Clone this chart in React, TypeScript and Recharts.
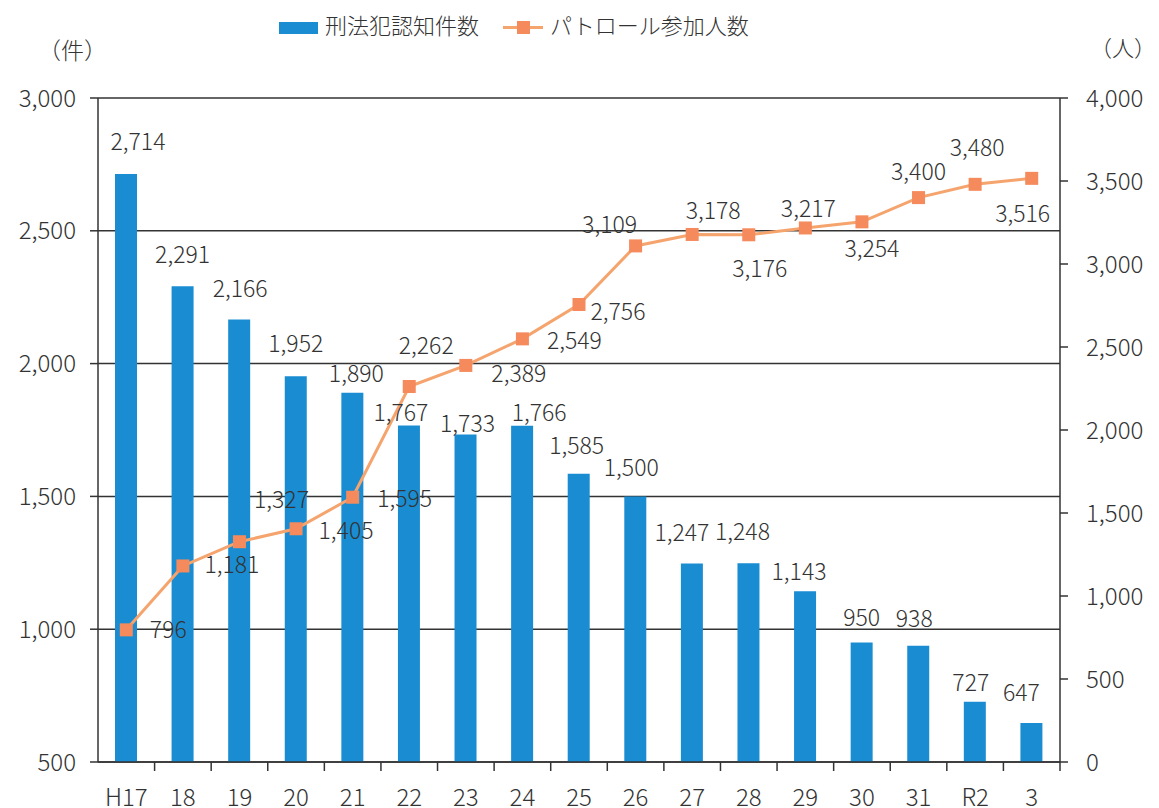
import {
  ComposedChart,
  Bar,
  Line,
  XAxis,
  YAxis,
  CartesianGrid,
  LabelList,
} from "recharts";

const years = ["H17", "18", "19", "20", "21", "22", "23", "24", "25", "26", "27", "28", "29", "30", "31", "R2", "3"];
const crimes = [2714, 2291, 2166, 1952, 1890, 1767, 1733, 1766, 1585, 1500, 1247, 1248, 1143, 950, 938, 727, 647];
const patrol = [796, 1181, 1327, 1405, 1595, 2262, 2389, 2549, 2756, 3109, 3178, 3176, 3217, 3254, 3400, 3480, 3516];
const leftTicks = [500, 1000, 1500, 2000, 2500, 3000];
const rightTicks = [0, 500, 1000, 1500, 2000, 2500, 3000, 3500, 4000];

// label nudges
const barLabelDx = [12, 0, 1, 0, 4, -8, 2, 17, -2, -4, -10, -6, -6, 0, -4, -4, -10];
const barLabelDy = [-34, -33, -33, -34, -21, -14, -13, -15, -30, -30, -33, -33, -21, -26, -29, -21, -32];
const lineLabelDx = [42, 49, 42, 50, 52, 17, 53, 52, 39, -26, 21, 11, 3, 10, 0, 2, -9];
const lineLabelDy = [-2, -3, -44, 0, 0, -43, 7, 0, 5, -23, -25, 32, -21, 25, -28, -38, 34];

const data = years.map((year, i) => ({ year, crimes: crimes[i], patrol: patrol[i] }));

const font = "'Noto Sans CJK JP', 'Noto Sans', sans-serif";
const ink = "#333";
const blue = "#1a8dd2";
const orange = "#f5a46e";
const orangeDot = "#f58a5c";
const fmt = (v: number) => v.toLocaleString("en-US");

const tickStyle = { fontFamily: font, fontSize: 24, fill: ink, fontWeight: 300 };
const labelStyle = { fontFamily: font, fontSize: 23, fill: ink, fontWeight: 300 };

function BarLabel(p: any) {
  const i = p.index;
  return (
    <text
      x={p.x + p.width / 2 + barLabelDx[i]}
      y={p.y + barLabelDy[i]}
      textAnchor="middle"
      dominantBaseline="central"
      style={labelStyle}
    >
      {fmt(p.value)}
    </text>
  );
}

function LineLabel(p: any) {
  const i = p.index;
  return (
    <text
      x={p.x + lineLabelDx[i]}
      y={p.y + lineLabelDy[i]}
      textAnchor="middle"
      dominantBaseline="central"
      style={labelStyle}
    >
      {fmt(p.value)}
    </text>
  );
}

function XTick(p: any) {
  const half = p.payload?.offset || 28.3;
  return (
    <g>
      <line x1={p.x + half} x2={p.x + half} y1={p.y - 8} y2={p.y + 1} stroke={ink} strokeWidth={1.5} />
      <text x={p.x} y={p.y + 25} textAnchor="middle" dominantBaseline="central" style={tickStyle}>
        {p.payload.value}
      </text>
    </g>
  );
}

export default function App() {
  return (
    <div style={{ position: "absolute", left: 0, top: 0, width: 1159, height: 808, background: "#fff", fontFamily: font, color: ink }}>
      <div style={{ position: "absolute", left: 279, top: 22, width: 39, height: 12, background: blue }} />
      <div style={{ position: "absolute", left: 325, top: 9, fontSize: 22, lineHeight: "30px", fontWeight: 300 }}>刑法犯認知件数</div>
      <div style={{ position: "absolute", left: 503, top: 26, width: 40, height: 3, background: orange }} />
      <div style={{ position: "absolute", left: 517, top: 21, width: 13, height: 13, background: orangeDot }} />
      <div style={{ position: "absolute", left: 550, top: 9, fontSize: 22, lineHeight: "30px", fontWeight: 300 }}>パトロール参加人数</div>
      <div style={{ position: "absolute", left: 38, top: 34, fontSize: 23, lineHeight: "30px", fontWeight: 300 }}>（件）</div>
      <div style={{ position: "absolute", left: 1090, top: 31, fontSize: 22, lineHeight: "30px", fontWeight: 300 }}>（人）</div>
      <ComposedChart
        width={1159}
        height={808}
        data={data}
        margin={{ top: 98, right: 0, bottom: 0, left: 0 }}
        barSize={22}
        style={{ position: "absolute", left: 0, top: 0 }}
      >
        <CartesianGrid yAxisId="left" vertical={false} stroke={ink} strokeWidth={1.5} />
        <XAxis
          dataKey="year"
          height={46}
          axisLine={{ stroke: ink, strokeWidth: 1.5 }}
          tickLine={false}
          interval={0}
          tick={<XTick />}
        />
        <YAxis
          yAxisId="left"
          width={98}
          domain={[500, 3000]}
          ticks={leftTicks}
          tickFormatter={fmt}
          axisLine={{ stroke: ink, strokeWidth: 1.5 }}
          tickLine={{ stroke: ink, strokeWidth: 1.5 }}
          tickSize={8}
          tickMargin={14}
          tick={tickStyle}
        />
        <YAxis
          yAxisId="right"
          orientation="right"
          width={99}
          domain={[0, 4000]}
          ticks={rightTicks}
          tickFormatter={fmt}
          axisLine={{ stroke: ink, strokeWidth: 1.5 }}
          tickLine={{ stroke: ink, strokeWidth: 1.5 }}
          tickSize={8}
          tickMargin={18}
          tick={tickStyle}
        />
        <Bar yAxisId="left" dataKey="crimes" fill={blue} isAnimationActive={false}>
          <LabelList dataKey="crimes" content={<BarLabel />} />
        </Bar>
        <Line
          yAxisId="right"
          type="linear"
          dataKey="patrol"
          stroke={orange}
          strokeWidth={3}
          isAnimationActive={false}
          dot={(p: any) => (
            <rect key={`d${p.index}`} x={p.cx - 6.5} y={p.cy - 6.5} width={13} height={13} fill={orangeDot} />
          )}
          activeDot={false}
        >
          <LabelList dataKey="patrol" content={<LineLabel />} />
        </Line>
      </ComposedChart>
    </div>
  );
}
